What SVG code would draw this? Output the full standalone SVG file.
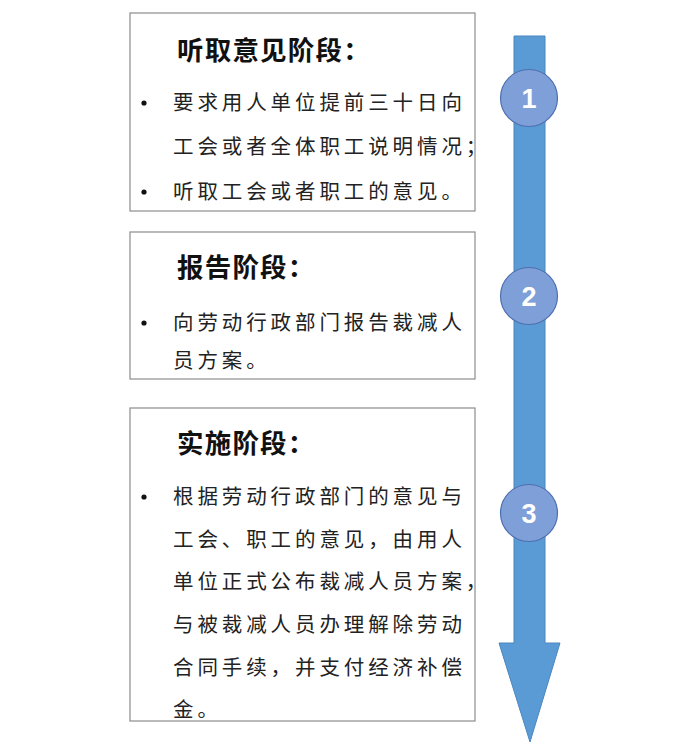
<svg xmlns="http://www.w3.org/2000/svg" width="696" height="750" viewBox="0 0 696 750">
<style>
.box{fill:#fff;stroke:#8c8c8c;stroke-width:1.2}
.title{font-family:"Noto Sans CJK SC",sans-serif;font-weight:bold;font-size:26.5px;letter-spacing:1.2px;fill:#111}
.body{font-family:"Noto Sans CJK SC",sans-serif;font-size:20.5px;letter-spacing:3.9px;fill:#222}
.bullet{fill:#111}
.circ{fill:#7f9fd9;stroke:#4e6fae;stroke-width:1.2}
.num{font-family:"Liberation Sans",Arial,sans-serif;font-weight:bold;font-size:27px;fill:#fff;text-anchor:middle}
</style>
<rect width="696" height="750" fill="#fff"/>
<g id="connectors">
<polygon points="514,36 545,36 545,643 560,643 530,742 499,643 514,643" fill="#5b9bd5" stroke="#4a86c0" stroke-width="1"/>
</g>
<g id="stage1">
<rect class="box" x="130" y="13" width="345" height="198"/>
<text class="title" x="177" y="60">听取意见阶段：</text>
<circle class="bullet" cx="144" cy="103" r="2.6"/>
<text class="body" x="173" y="110">要求用人单位提前三十日向</text>
<text class="body" x="173" y="154">工会或者全体职工说明情况；</text>
<circle class="bullet" cx="144" cy="192" r="2.6"/>
<text class="body" x="173" y="199">听取工会或者职工的意见。</text>
</g>
<g id="stage2">
<rect class="box" x="130" y="232" width="345" height="147"/>
<text class="title" x="177" y="277">报告阶段：</text>
<circle class="bullet" cx="144" cy="323" r="2.6"/>
<text class="body" x="173" y="330">向劳动行政部门报告裁减人</text>
<text class="body" x="173" y="368">员方案。</text>
</g>
<g id="stage3">
<rect class="box" x="130" y="408" width="345" height="313"/>
<text class="title" x="177" y="453">实施阶段：</text>
<circle class="bullet" cx="144" cy="497" r="2.6"/>
<text class="body" x="173" y="504">根据劳动行政部门的意见与</text>
<text class="body" x="173" y="547">工会、职工的意见，由用人</text>
<text class="body" x="173" y="589">单位正式公布裁减人员方案，</text>
<text class="body" x="173" y="632">与被裁减人员办理解除劳动</text>
<text class="body" x="173" y="675">合同手续，并支付经济补偿</text>
<text class="body" x="173" y="717">金。</text>
</g>
<g id="step1">
<circle class="circ" cx="529" cy="98" r="28.5"/>
<text class="num" x="529" y="108">1</text>
</g>
<g id="step2">
<circle class="circ" cx="529" cy="296" r="28.5"/>
<text class="num" x="529" y="306">2</text>
</g>
<g id="step3">
<circle class="circ" cx="529" cy="513" r="28.5"/>
<text class="num" x="529" y="523">3</text>
</g>
</svg>
